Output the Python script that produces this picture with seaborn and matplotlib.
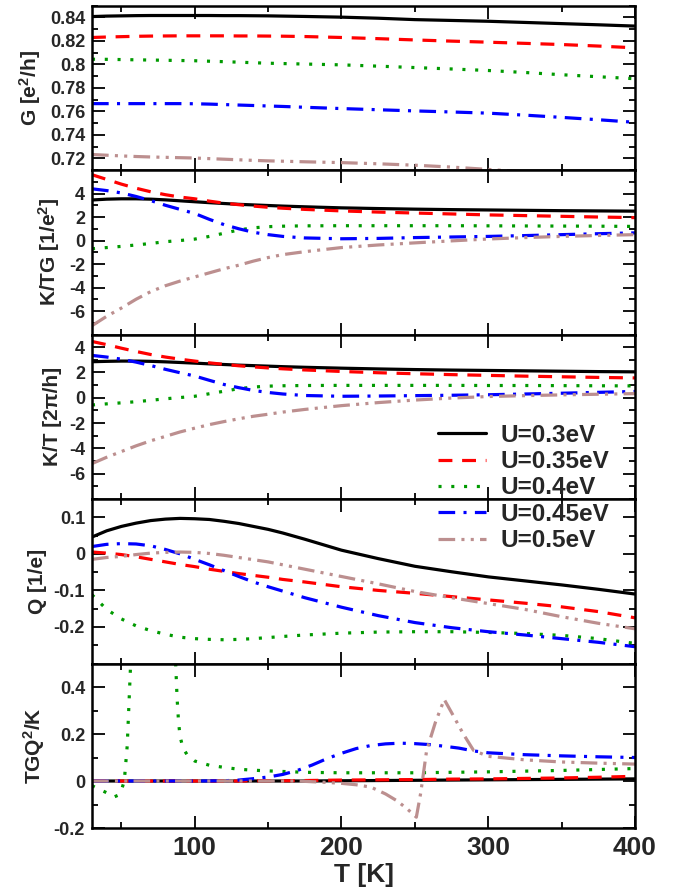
import numpy as np
import pandas as pd
import matplotlib
matplotlib.use('Agg')
import matplotlib.pyplot as plt
import seaborn as sns
from matplotlib.ticker import MultipleLocator, FixedLocator, FuncFormatter

# ---------------- data ----------------
labels = ['U=0.3eV', 'U=0.35eV', 'U=0.4eV', 'U=0.45eV', 'U=0.5eV']

T = [30, 40, 50, 60, 70, 80, 90, 100, 110, 120, 130, 140, 150, 160, 175,
     200, 225, 250, 275, 300, 325, 350, 375, 400]

G_03 = [0.8406, 0.8410, 0.8412, 0.8414, 0.8415, 0.8415, 0.8415, 0.8415, 0.8415, 0.8414, 0.8414, 0.8413,
        0.8412, 0.8410, 0.8407, 0.8401, 0.8392, 0.8380, 0.8373, 0.8366, 0.8356, 0.8346, 0.8336, 0.8325]
G_035 = [0.8228, 0.8232, 0.8235, 0.8238, 0.8240, 0.8241, 0.8242, 0.8242, 0.8242, 0.8242, 0.8241, 0.8241,
         0.8240, 0.8239, 0.8236, 0.8228, 0.8218, 0.8207, 0.8197, 0.8188, 0.8178, 0.8168, 0.8155, 0.8140]
G_04 = [0.8043, 0.8042, 0.8040, 0.8038, 0.8036, 0.8034, 0.8032, 0.8030, 0.8026, 0.8022, 0.8018, 0.8013,
        0.8009, 0.8006, 0.8002, 0.7995, 0.7984, 0.7972, 0.7960, 0.7947, 0.7930, 0.7911, 0.7894, 0.7877]
G_045 = [0.7665, 0.7665, 0.7665, 0.7665, 0.7665, 0.7665, 0.7665, 0.7664, 0.7661, 0.7657, 0.7653, 0.7649,
         0.7645, 0.7641, 0.7634, 0.7623, 0.7613, 0.7603, 0.7594, 0.7584, 0.7567, 0.7548, 0.7528, 0.7506]
G_05 = [0.7232, 0.7226, 0.7220, 0.7215, 0.7211, 0.7208, 0.7205, 0.7202, 0.7197, 0.7192, 0.7187, 0.7182,
        0.7178, 0.7175, 0.7170, 0.7163, 0.7153, 0.7141, 0.7125, 0.7105, 0.7085, 0.7065, 0.7045, 0.7025]

KTG_03 = [3.45, 3.52, 3.55, 3.55, 3.52, 3.46, 3.38, 3.30, 3.22, 3.15, 3.08, 3.03,
          2.98, 2.93, 2.87, 2.78, 2.72, 2.67, 2.63, 2.60, 2.57, 2.54, 2.52, 2.50]
KTG_035 = [5.6, 5.2, 4.8, 4.45, 4.15, 3.9, 3.7, 3.55, 3.35, 3.18, 3.05, 2.93,
           2.83, 2.75, 2.65, 2.52, 2.42, 2.34, 2.26, 2.18, 2.12, 2.06, 2.0, 1.95]
KTG_04 = [-0.7, -0.6, -0.5, -0.38, -0.25, -0.1, 0.0, 0.12, 0.35, 0.62, 0.9, 1.08,
          1.18, 1.22, 1.25, 1.26, 1.26, 1.26, 1.26, 1.25, 1.24, 1.23, 1.22, 1.2]
KTG_045 = [4.4, 4.25, 4.05, 3.75, 3.4, 3.0, 2.65, 2.3, 1.8, 1.35, 1.0, 0.7,
           0.5, 0.35, 0.22, 0.15, 0.18, 0.25, 0.3, 0.35, 0.42, 0.5, 0.58, 0.65]
KTG_05 = [-7.25, -6.45, -5.75, -5.0, -4.35, -3.85, -3.45, -3.1, -2.75, -2.4, -2.1, -1.75,
          -1.45, -1.2, -0.95, -0.6, -0.38, -0.2, -0.03, 0.13, 0.25, 0.35, 0.43, 0.5]

KT_03 = [2.85, 2.88, 2.9, 2.9, 2.88, 2.84, 2.79, 2.74, 2.68, 2.63, 2.58, 2.54,
         2.5, 2.46, 2.41, 2.34, 2.28, 2.23, 2.19, 2.16, 2.13, 2.1, 2.07, 2.05]
KT_035 = [4.45, 4.2, 3.92, 3.66, 3.42, 3.22, 3.05, 2.9, 2.76, 2.64, 2.53, 2.44,
          2.36, 2.29, 2.2, 2.08, 1.98, 1.9, 1.83, 1.77, 1.71, 1.66, 1.61, 1.57]
KT_04 = [-0.57, -0.48, -0.4, -0.31, -0.2, -0.08, 0.02, 0.12, 0.32, 0.52, 0.72, 0.85,
         0.92, 0.95, 0.97, 0.98, 0.98, 0.98, 0.98, 0.97, 0.97, 0.96, 0.95, 0.94]
KT_045 = [3.35, 3.22, 3.05, 2.82, 2.55, 2.25, 1.98, 1.72, 1.38, 1.05, 0.8, 0.58,
          0.42, 0.3, 0.18, 0.12, 0.14, 0.17, 0.2, 0.24, 0.3, 0.36, 0.43, 0.5]
KT_05 = [-5.2, -4.7, -4.25, -3.8, -3.4, -3.05, -2.7, -2.4, -2.12, -1.88, -1.66, -1.46,
         -1.3, -1.13, -0.92, -0.62, -0.38, -0.18, -0.02, 0.1, 0.17, 0.23, 0.28, 0.33]

Q_03 = [0.046, 0.063, 0.075, 0.084, 0.091, 0.095, 0.097, 0.096, 0.094, 0.089, 0.083, 0.075,
        0.067, 0.057, 0.040, 0.01, -0.013, -0.034, -0.049, -0.063, -0.074, -0.085, -0.097, -0.11]
Q_035 = [0.005, 0.002, -0.002, -0.008, -0.015, -0.022, -0.029, -0.035, -0.042, -0.048, -0.054, -0.059,
         -0.064, -0.07, -0.077, -0.09, -0.1, -0.108, -0.117, -0.126, -0.135, -0.145, -0.158, -0.175]
Q_04 = [-0.112, -0.152, -0.178, -0.197, -0.21, -0.22, -0.228, -0.232, -0.234, -0.235, -0.234, -0.232,
        -0.229, -0.226, -0.222, -0.217, -0.214, -0.213, -0.213, -0.215, -0.218, -0.223, -0.232, -0.245]
Q_045 = [0.02, 0.026, 0.028, 0.027, 0.022, 0.012, 0.0, -0.015, -0.03, -0.046, -0.062, -0.077,
         -0.09, -0.102, -0.12, -0.146, -0.169, -0.188, -0.202, -0.213, -0.222, -0.232, -0.242, -0.254]
Q_05 = [-0.015, -0.01, -0.007, -0.002, 0.002, 0.004, 0.005, 0.004, 0.001, -0.004, -0.01, -0.016,
        -0.022, -0.03, -0.042, -0.062, -0.082, -0.103, -0.12, -0.136, -0.152, -0.172, -0.19, -0.205]

# TGQ^2/K
R_03 = [0.0, 0.0, 0.0, 0.0, 0.0, 0.0, 0.0, 0.0, 0.0, 0.0, 0.0, 0.0,
        0.0, 0.0, 0.0, 0.001, 0.002, 0.003, 0.004, 0.005, 0.006, 0.007, 0.008, 0.009]
R_035 = [0.001, 0.001, 0.0, 0.0, 0.0, 0.0, 0.0, 0.0, 0.0, 0.0, 0.0, 0.001,
         0.001, 0.001, 0.002, 0.004, 0.005, 0.006, 0.008, 0.009, 0.011, 0.013, 0.016, 0.02]
T_R04 = [30, 35, 40, 45, 48, 50, 52, 54, 55, 56, 57, 70, 86, 87, 88, 89, 90, 92, 95,
         100, 110, 120, 130, 140, 150, 175, 200, 250, 300, 350, 400]
R_04 = [-0.02, -0.035, -0.05, -0.068, -0.06, -0.04, 0.0, 0.15, 0.3, 0.45, 0.6, 2.0, 0.6, 0.5, 0.35,
        0.25, 0.19, 0.14, 0.11, 0.085, 0.067, 0.058, 0.05, 0.046, 0.043, 0.037, 0.035, 0.035,
        0.039, 0.045, 0.053]
T_R045 = [30, 60, 100, 120, 130, 140, 150, 160, 170, 180, 190, 200, 210, 220, 230, 240, 250,
          260, 270, 280, 290, 300, 325, 350, 375, 400]
R_045 = [0.0, 0.0, 0.0, 0.001, 0.004, 0.01, 0.017, 0.028, 0.045, 0.068, 0.095, 0.118, 0.138,
         0.151, 0.158, 0.161, 0.159, 0.155, 0.148, 0.14, 0.128, 0.12, 0.112, 0.107, 0.103, 0.1]
T_R05 = [30, 60, 100, 130, 150, 170, 180, 190, 200, 210, 220, 230, 238, 245, 251, 254, 258,
         264, 270, 276, 283, 290, 300, 325, 350, 375, 400]
R_05 = [0.0, 0.0, 0.0, 0.0, 0.0, 0.0, -0.003, -0.006, -0.01, -0.016, -0.026, -0.055, -0.085,
        -0.12, -0.154, -0.05, 0.13, 0.25, 0.347, 0.28, 0.2, 0.13, 0.105, 0.09, 0.081, 0.076, 0.072]

panels = [
    ([(T, G_03), (T, G_035), (T, G_04), (T, G_045), (T, G_05)], 'G [e$^{2}$/h]'),
    ([(T, KTG_03), (T, KTG_035), (T, KTG_04), (T, KTG_045), (T, KTG_05)], 'K/TG [1/e$^{2}$]'),
    ([(T, KT_03), (T, KT_035), (T, KT_04), (T, KT_045), (T, KT_05)], 'K/T [2\u03c0/h]'),
    ([(T, Q_03), (T, Q_035), (T, Q_04), (T, Q_045), (T, Q_05)], 'Q [1/e]'),
    ([(T, R_03), (T, R_035), (T_R04, R_04), (T_R045, R_045), (T_R05, R_05)], 'TGQ$^{2}$/K'),
]
ylims = [(0.71, 0.85), (-8, 6), (-8, 5), (-0.3, 0.15), (-0.2, 0.5)]
yticks_major = [
    [0.72, 0.74, 0.76, 0.78, 0.80, 0.82, 0.84],
    [-6, -4, -2, 0, 2, 4],
    [-6, -4, -2, 0, 2, 4],
    [-0.2, -0.1, 0.0, 0.1],
    [-0.2, 0.0, 0.2, 0.4],
]
yminor = [0.01, 1, 1, 0.05, 0.1]

# ---------------- style ----------------
sns.set_theme(style='ticks')
plt.rcParams['font.family'] = ['Liberation Sans', 'DejaVu Sans']
plt.rcParams['font.weight'] = 'bold'
plt.rcParams['axes.unicode_minus'] = False
plt.rcParams['mathtext.fontset'] = 'custom'
plt.rcParams['mathtext.rm'] = 'Liberation Sans:bold'
plt.rcParams['mathtext.bf'] = 'Liberation Sans:bold'
plt.rcParams['mathtext.it'] = 'Liberation Sans:bold'
plt.rcParams['mathtext.default'] = 'rm'
plt.rcParams['lines.scale_dashes'] = False

colors = ['#000000', '#ff0000', '#009a00', '#0000ff', '#bc8f8f']
lstyles = ['-', (0, (10, 7)), (0, (2.2, 7)), (0, (12, 6, 2.2, 6)),
           (0, (12, 4.5, 2.2, 4.5, 2.2, 4.5))]
LW = 2.3

fig, axes = plt.subplots(5, 1, sharex=True, figsize=(6.86, 8.91), dpi=100)
fig.subplots_adjust(left=0.1341, right=0.9257, top=0.9938, bottom=0.0707, hspace=0)

fmt = FuncFormatter(lambda v, p: '%g' % round(v, 6))
legend_handles = None
for i, (ax, (series, ylab)) in enumerate(zip(axes, panels)):
    for j, (tx, vy) in enumerate(series):
        df = pd.DataFrame({'T': tx, 'v': vy})
        sns.lineplot(data=df, x='T', y='v', ax=ax, color=colors[j], linestyle=lstyles[j],
                     linewidth=LW, legend=False, estimator=None, sort=False)
    if i == 2:
        legend_handles = list(ax.get_lines())
    ax.set_xlim(30, 400)
    ax.set_ylim(*ylims[i])
    ax.yaxis.set_major_locator(FixedLocator(yticks_major[i]))
    ax.yaxis.set_minor_locator(MultipleLocator(yminor[i]))
    ax.yaxis.set_major_formatter(fmt)
    ax.xaxis.set_major_locator(MultipleLocator(100))
    ax.xaxis.set_minor_locator(MultipleLocator(50))
    ax.tick_params(which='both', direction='in', top=True, right=True, width=1.3, color='black')
    ax.tick_params(which='major', length=9)
    ax.tick_params(which='minor', length=4.5)
    ax.tick_params(axis='y', labelsize=13, pad=5)
    ax.tick_params(axis='x', labelsize=19, pad=6)
    for lab in ax.get_yticklabels():
        lab.set_fontweight('bold')
    for sp in ax.spines.values():
        sp.set_linewidth(1.8)
        sp.set_color('black')
    ax.set_ylabel(ylab, fontsize=15, fontweight='bold', labelpad=5)
    ax.set_xlabel('')

for lab in axes[-1].get_xticklabels():
    lab.set_fontweight('bold')
axes[-1].set_xlabel('T [K]', fontsize=19, fontweight='bold', labelpad=2)

fig.legend(legend_handles, labels, loc='upper left', bbox_to_anchor=(0.638, 0.5245),
           frameon=False, prop={'weight': 'bold', 'size': 17.5}, handlelength=2.0,
           handletextpad=0.6, labelspacing=0.14, borderpad=0, borderaxespad=0)

fig.savefig('out.png', dpi=100)
